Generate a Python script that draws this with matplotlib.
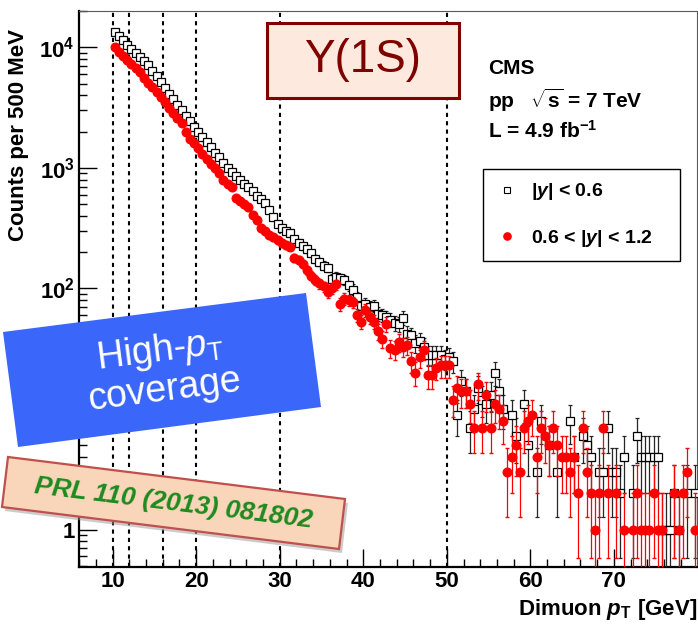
import matplotlib
matplotlib.use('Agg')
import matplotlib.pyplot as plt
import numpy as np
from matplotlib.patches import Polygon
from matplotlib.lines import Line2D
from matplotlib.ticker import MultipleLocator, LogLocator, NullFormatter, FuncFormatter

plt.rcParams['font.family'] = ['Liberation Sans', 'DejaVu Sans']
plt.rcParams['mathtext.fontset'] = 'custom'
plt.rcParams['mathtext.rm'] = 'Liberation Sans'
plt.rcParams['mathtext.it'] = 'Liberation Sans:italic'
plt.rcParams['mathtext.bf'] = 'Liberation Sans:bold'
plt.rcParams['mathtext.bfit'] = 'Liberation Sans:bold:italic'

# 0.5 GeV bins from 10 to 80 GeV
pt_edges = np.arange(10.0, 80.01, 0.5)

# counts per bin, |y| < 0.6 (open squares)
counts_central = [
    13500, 12500, 11500, 10500, 9700, 9000, 8300, 7700, 7100, 6400,
    5800, 5200, 4600, 4100, 3700, 3300, 3000, 2700, 2450, 2200,
    1980, 1800, 1640, 1480, 1330, 1220, 1100, 1000, 920, 850,
    790, 740, 700, 640, 590, 550, 515, 450, 395, 345,
    320, 300, 290, 255, 240, 225, 213, 195, 176, 165,
    155, 148, 120, 125, 122, 118, 106, 98, 85, 72,
    74, 70, 72, 62, 60, 58, 55, 52, 51, 57,
    42, 41, 35, 37, 33, 28, 28, 28, 28, 26,
    27, 25, 9, 17, 14, 7, 10, 15, 12, 11,
    13, 20, 14, 10, 0, 9, 6, 0, 11, 5,
    0, 3, 8, 0, 5, 0, 3, 0, 0, 8,
    4, 0, 6, 5, 4, 0, 3, 3, 7, 3,
    3, 2, 4, 0, 2, 6, 4, 4, 4, 4,
    4, 1, 1, 1, 2, 1, 0, 2, 0, 2,
]

# counts per bin, 0.6 < |y| < 1.2 (red dots)
counts_forward = [
    10000, 9200, 8500, 7900, 7300, 6700, 6200, 5600, 5100, 4700,
    4250, 3850, 3500, 3150, 2850, 2600, 2350, 2000, 1750, 1600,
    1450, 1300, 1180, 1080, 990, 900, 800, 730, 690, 560,
    530, 500, 470, 410, 370, 320, 300, 280, 265, 250,
    240, 228, 222, 180, 172, 160, 142, 128, 118, 110,
    104, 93, 100, 108, 74, 82, 80, 77, 60, 53,
    66, 58, 53, 44, 38, 51, 32, 31, 36, 33,
    34, 25, 20, 27, 31, 19, 19, 22, 23, 23,
    23, 12, 15, 14, 14, 11, 7, 16, 7, 13,
    7, 11, 10, 8, 3, 4, 5, 3, 7, 8,
    9, 4, 7, 6, 5, 7, 5, 4, 4, 3,
    4, 2, 7, 3, 2, 1, 2, 7, 2, 0,
    2, 0, 1, 0, 1, 2, 1, 1, 1, 2,
    1, 1, 0, 0, 2, 1, 2, 3, 0, 1,
]

cut_lines = [10, 12, 16, 20, 30, 50]
legend_labels = [r'|$\mathbfit{y}$| < 0.6', r'0.6 < |$\mathbfit{y}$| < 1.2']


def poisson_errors(n):
    n = np.asarray(n, dtype=float)
    err = np.sqrt(n)
    low = n - np.maximum(n - err, 0.01)
    return low, err


pt_centers = 0.5 * (pt_edges[:-1] + pt_edges[1:])

fig = plt.figure(figsize=(6.98, 6.28), dpi=100)
ax = fig.add_axes([79 / 698, 61 / 628, 618 / 698, 556 / 628])

for xv in cut_lines:
    ax.axvline(xv, color='black', ls=(0, (2, 2)), lw=1.5, zorder=1)

c = np.array(counts_central)
m = c > 0
lo, hi = poisson_errors(c[m])
ax.errorbar(pt_centers[m], c[m], yerr=[lo, hi], fmt='s', ms=5.6, mfc='white', mec='black',
            mew=0.9, ecolor='0.15', elinewidth=0.9, capsize=1.2, zorder=3)

f = np.array(counts_forward)
m = f > 0
lo, hi = poisson_errors(f[m])
ax.errorbar(pt_centers[m], f[m], yerr=[lo, hi], fmt='o', ms=6.2, mfc='red', mec='red',
            ecolor='red', elinewidth=0.9, capsize=1.2, zorder=4)

ax.set_yscale('log')
ax.set_xlim(5.97, 79.95)
ax.set_ylim(0.49, 2.0e4)

ax.xaxis.set_major_locator(MultipleLocator(10))
ax.xaxis.set_minor_locator(MultipleLocator(2))
ax.yaxis.set_major_locator(LogLocator(base=10))
ax.yaxis.set_minor_locator(LogLocator(base=10, subs=range(2, 10)))
ax.yaxis.set_minor_formatter(NullFormatter())


def ylab(v, pos):
    if v == 1:
        return '1'
    if v == 10:
        return '10'
    return r'$\mathbf{10^{%d}}$' % round(np.log10(v))


ax.yaxis.set_major_formatter(FuncFormatter(ylab))
ax.tick_params(which='both', direction='in', top=False, right=False, width=1)
ax.tick_params(which='major', length=13, labelsize=16)
ax.tick_params(which='minor', length=6)
ax.tick_params(axis='x', pad=3)
ax.tick_params(axis='y', pad=3)
for lab in ax.get_xticklabels() + ax.get_yticklabels():
    lab.set_fontweight('bold')

for s in ['left', 'bottom']:
    ax.spines[s].set_linewidth(1.6)
for s in ['top', 'right']:
    ax.spines[s].set_linewidth(0.8)
    ax.spines[s].set_color('0.35')

handles = [Line2D([], [], ls='none', marker='s', ms=4.2, mfc='white', mec='black', mew=0.8),
           Line2D([], [], ls='none', marker='o', ms=5.2, color='red')]
leg = ax.legend(handles, legend_labels, loc='upper left',
                bbox_to_anchor=(483 / 698, 1 - 175 / 628, 197 / 698, 0.01),
                bbox_transform=fig.transFigure, mode='expand', borderaxespad=0,
                prop={'weight': 'bold', 'size': 14}, borderpad=0.65, labelspacing=1.3,
                handlelength=1.17, handletextpad=0.65, fancybox=False, framealpha=1)
leg.get_frame().set_edgecolor('black')
leg.get_frame().set_linewidth(1.0)

# overlay in pixel coordinates for the annotations
ov = fig.add_axes([0, 0, 1, 1])
ov.set_xlim(0, 698)
ov.set_ylim(628, 0)
ov.set_axis_off()

ov.text(488, 68, 'CMS', fontsize=15, fontweight='bold', va='center', ha='left')
ov.text(488, 100, r'pp   $\sqrt{\mathbf{s}}$ = 7 TeV', fontsize=15, fontweight='bold', va='center', ha='left')
ov.text(488, 131, r'L = 4.9 fb$^{\mathbf{-1}}$', fontsize=15, fontweight='bold', va='center', ha='left')

fig.text(19 / 698, 1 - 135 / 628, 'Counts per 500 MeV', rotation=90, fontsize=16,
         fontweight='bold', ha='center', va='center')
fig.text(697 / 698, 1 - 609 / 628, r'Dimuon $\mathbfit{p}_{\mathbf{T}}$ [GeV]', fontsize=16,
         fontweight='bold', ha='right', va='center')

ov.add_patch(Polygon([(267, 23), (459, 23), (459, 98), (267, 98)], closed=True,
                     facecolor='#fde9dd', edgecolor='#800000', lw=2.2, zorder=5))
ov.text(363, 60, 'Υ(1S)', fontsize=33, color='#800000', ha='center', va='center', zorder=6)

ov.add_patch(Polygon([(3, 332), (306, 293), (321, 407), (18, 447)], closed=True,
                     facecolor='#3b66fa', edgecolor='none', zorder=5))
ov.text(162, 370, 'High-$\\mathit{p}_{\\mathrm{T}}$\ncoverage', fontsize=27, color='white',
        rotation=7.3, ha='center', va='center', linespacing=1.05, zorder=6)

ov.add_patch(Polygon([(11, 461), (348, 503), (342, 553), (5, 511)], closed=True,
                     facecolor='0.6', edgecolor='none', alpha=0.5, zorder=5))
ov.add_patch(Polygon([(8, 457), (345, 499), (339, 549), (2, 507)], closed=True,
                     facecolor='#f9d5ba', edgecolor='#c0504d', lw=1.6, zorder=6))
ov.text(173, 503, 'PRL 110 (2013) 081802', fontsize=19, fontweight='bold', fontstyle='italic',
        color='#1f8a1f', rotation=-7.1, ha='center', va='center', zorder=7)

fig.savefig('out.png', dpi=100)
